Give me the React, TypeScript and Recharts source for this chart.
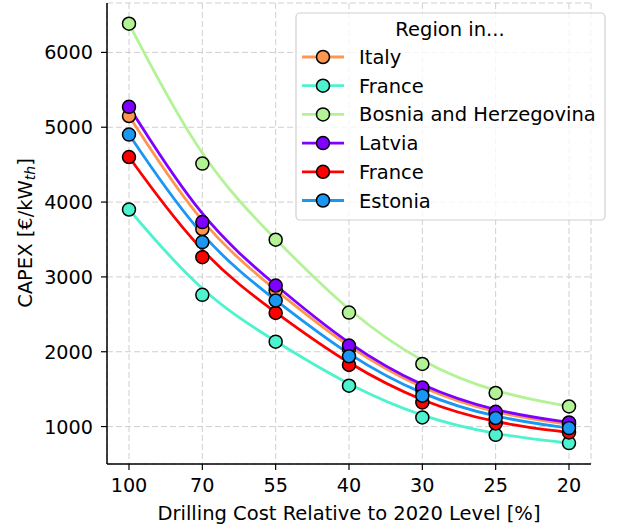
import React from 'react';
import { LineChart, Line, XAxis, YAxis, CartesianGrid } from 'recharts';

const categories = ['100', '70', '55', '40', '30', '25', '20'];
const seriesNames = ['Italy', 'France', 'Bosnia and Herzegovina', 'Latvia', 'France', 'Estonia'];
const seriesColors = ['#ff964f', '#4df3ce', '#b3f396', '#8000ff', '#ff0000', '#1a96f3'];
const italy = [5150, 3640, 2820, 2040, 1490, 1170, 1030];
const franceA = [3900, 2760, 2135, 1546, 1122, 890, 779];
const bosnia = [6383, 4514, 3497, 2523, 1837, 1449, 1269];
const latvia = [5272, 3732, 2885, 2082, 1523, 1198, 1055];
const franceB = [4602, 3264, 2519, 1823, 1323, 1042, 921];
const estonia = [4902, 3465, 2684, 1939, 1413, 1114, 980];
const seriesValues = [italy, franceA, bosnia, latvia, franceB, estonia];
const yTicks = [1000, 2000, 3000, 4000, 5000, 6000];

const FONT = '"DejaVu Sans", sans-serif';

const data = categories.map((c, i) => {
  const row: Record<string, number | string> = { i, cat: c };
  seriesValues.forEach((vals, k) => {
    row['s' + k] = vals[i];
  });
  return row;
});

const XTick = (props: any) => {
  const { x, y, payload } = props;
  return (
    <text x={x} y={y} dy={20} textAnchor="middle" fontFamily={FONT} fontSize={19.2} fill="#000">
      {categories[payload.value]}
    </text>
  );
};

const YTick = (props: any) => {
  const { x, y, payload } = props;
  return (
    <text x={x - 6} y={y} dy={7} textAnchor="end" fontFamily={FONT} fontSize={19.2} fill="#000">
      {payload.value}
    </text>
  );
};

const Legend = () => {
  const top = 13;
  const left = 296;
  const w = 309;
  const h = 207;
  return (
    <svg width={620} height={529} style={{ position: 'absolute', left: 0, top: 0, pointerEvents: 'none' }}>
      <rect x={left} y={top} width={w} height={h} rx={4} ry={4} fill="#fff" fillOpacity={0.8} stroke="#d0d0d0" strokeWidth={1.2} />
      <text x={450} y={36} textAnchor="middle" fontFamily={FONT} fontSize={19.5} fill="#000">
        Region in...
      </text>
      {seriesNames.map((name, k) => {
        const cy = 57 + k * 28.7;
        return (
          <g key={k}>
            <line x1={302} x2={344} y1={cy} y2={cy} stroke={seriesColors[k]} strokeWidth={2.8} />
            <circle cx={323} cy={cy} r={6.5} fill={seriesColors[k]} stroke="#000" strokeWidth={1.5} />
            <text x={359} y={cy + 7} fontFamily={FONT} fontSize={19.5} fill="#000">
              {name}
            </text>
          </g>
        );
      })}
    </svg>
  );
};

export default function App() {
  return (
    <div style={{ position: 'absolute', left: 0, top: 0, width: 620, height: 529, background: '#fff' }}>
      <style>{'body{margin:0}'}</style>
      <LineChart width={620} height={529} data={data} margin={{ top: 3, right: 29, bottom: 0, left: 0 }}>
        <CartesianGrid stroke="#cfcfcf" strokeDasharray="6 3" strokeWidth={1} />
        <XAxis
          type="number"
          dataKey="i"
          domain={[-0.3, 6.3]}
          ticks={[0, 1, 2, 3, 4, 5, 6]}
          allowDataOverflow
          height={65}
          axisLine={{ stroke: '#000', strokeWidth: 1.5 }}
          tickLine={{ stroke: '#000', strokeWidth: 1.2 }}
          tickSize={6}
          tick={<XTick />}
          label={{
            content: () => (
              <text x={349} y={520} textAnchor="middle" fontFamily={FONT} fontSize={19.5} fill="#000">
                Drilling Cost Relative to 2020 Level [%]
              </text>
            ),
          }}
        />
        <YAxis
          type="number"
          domain={[500, 6660]}
          ticks={yTicks}
          allowDataOverflow
          width={107}
          axisLine={{ stroke: '#000', strokeWidth: 1.5 }}
          tickLine={{ stroke: '#000', strokeWidth: 1.2 }}
          tickSize={6}
          tick={<YTick />}
          label={{
            content: () => (
              <text
                x={25}
                y={233}
                transform="rotate(-90, 25, 233)"
                textAnchor="middle"
                dominantBaseline="central"
                fontFamily={FONT}
                fontSize={19.5}
                fill="#000"
              >
                CAPEX [€/kW
                <tspan dy={5} fontStyle="italic" fontSize={14}>th</tspan>
                <tspan dy={-5}>]</tspan>
              </text>
            ),
          }}
        />
        {seriesNames.map((name, k) => (
          <Line
            key={k}
            type="basis"
            dataKey={'s' + k}
            name={name}
            stroke={seriesColors[k]}
            strokeWidth={2.8}
            dot={{ r: 6.5, fill: seriesColors[k], stroke: '#000', strokeWidth: 1.5, fillOpacity: 1 }}
            activeDot={false}
            isAnimationActive={false}
          />
        ))}
      </LineChart>
      <Legend />
    </div>
  );
}
